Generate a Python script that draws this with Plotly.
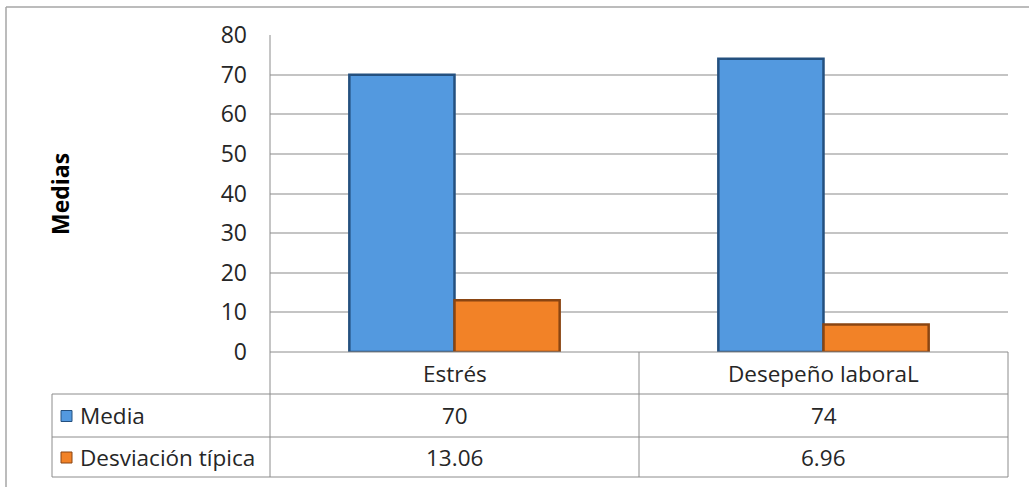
import plotly.graph_objects as go

# Chart data
categories = ["Estrés", "Desepeño laboraL"]
series_names = ["Media", "Desviación típica"]
media = [70, 74]
desviacion = [13.06, 6.96]
y_ticks = [0, 10, 20, 30, 40, 50, 60, 70, 80]

W, H = 1029, 487
L, R, T, B = 270, 1008, 35, 352  # plot area in pixels

FONT = "Open Sans"
FS = 23
fills = ["#5399DF", "#F28227"]
edges = ["#24507F", "#8A4512"]

def px(x):
    return (x - L) / (R - L)

def py(y):
    return (B - y) / (B - T)

fig = go.Figure()
for name, vals, fc, ec in zip(series_names, [media, desviacion], fills, edges):
    fig.add_trace(go.Bar(
        x=categories, y=vals, name=name,
        marker=dict(color=fc, line=dict(color=ec, width=2.5)),
    ))

shapes = []
line_col = "#8C8C8C"
# table grid
for yline, x0 in [(B, L), (394, 52), (437, 52), (477, 52)]:
    shapes.append(dict(type="line", xref="paper", yref="paper",
                       x0=px(x0), x1=px(R), y0=py(yline), y1=py(yline),
                       line=dict(color=line_col, width=1)))
for xline, y0 in [(52, 394), (L, T), (639, B), (R, B)]:
    shapes.append(dict(type="line", xref="paper", yref="paper",
                       x0=px(xline), x1=px(xline), y0=py(y0), y1=py(477),
                       line=dict(color=line_col, width=1)))
# outer frame (top and left)
shapes.append(dict(type="line", xref="paper", yref="paper",
                   x0=px(6), x1=px(W), y0=py(7), y1=py(7),
                   line=dict(color="#A6A6A6", width=1.5)))
shapes.append(dict(type="line", xref="paper", yref="paper",
                   x0=px(6), x1=px(6), y0=py(7), y1=py(H),
                   line=dict(color="#A6A6A6", width=1.5)))

annotations = []
txt_font = dict(family=FONT, size=FS - 0.5, color="#262626")

def note(x, y, text, xanchor="center", font=txt_font, angle=0):
    annotations.append(dict(x=px(x), y=py(y), xref="paper", yref="paper",
                            text=text, showarrow=False, xanchor=xanchor,
                            yanchor="middle", textangle=angle, font=font))

col_centers = [(L + 639) / 2, (639 + R) / 2]
row_centers = [415.5, 457]
for cx, cat in zip(col_centers, categories):
    note(cx, 373, cat)
for ry, name, vals, fc, ec in zip(row_centers, series_names,
                                  [media, desviacion], fills, edges):
    shapes.append(dict(type="rect", xref="paper", yref="paper",
                       x0=px(61), x1=px(72), y0=py(ry - 5), y1=py(ry + 6),
                       fillcolor=fc, line=dict(color=ec, width=1)))
    note(78, ry, name, xanchor="left")
    for cx, v in zip(col_centers, vals):
        note(cx, ry, f"{v:g}")
# axis title
note(60, 194, "<b>Medias</b>", angle=-90,
     font=dict(family=FONT, size=23, color="#000000"))

fig.update_layout(
    width=W, height=H,
    margin=dict(l=L, r=W - R, t=T, b=H - B, pad=0),
    paper_bgcolor="white", plot_bgcolor="white",
    barmode="group", bargap=0.43, bargroupgap=0,
    showlegend=False,
    font=dict(family=FONT),
    xaxis=dict(showticklabels=False, showgrid=False, zeroline=False,
               showline=False, ticks=""),
    yaxis=dict(range=[0, 80], tickvals=y_ticks, showgrid=True,
               gridcolor="#C4C4C4", gridwidth=1.5, zeroline=False,
               showline=False, ticks="", ticklabelstandoff=22,
               tickfont=dict(family=FONT, size=FS, color="#262626")),
    shapes=shapes, annotations=annotations,
)

fig.write_html("out.html")
